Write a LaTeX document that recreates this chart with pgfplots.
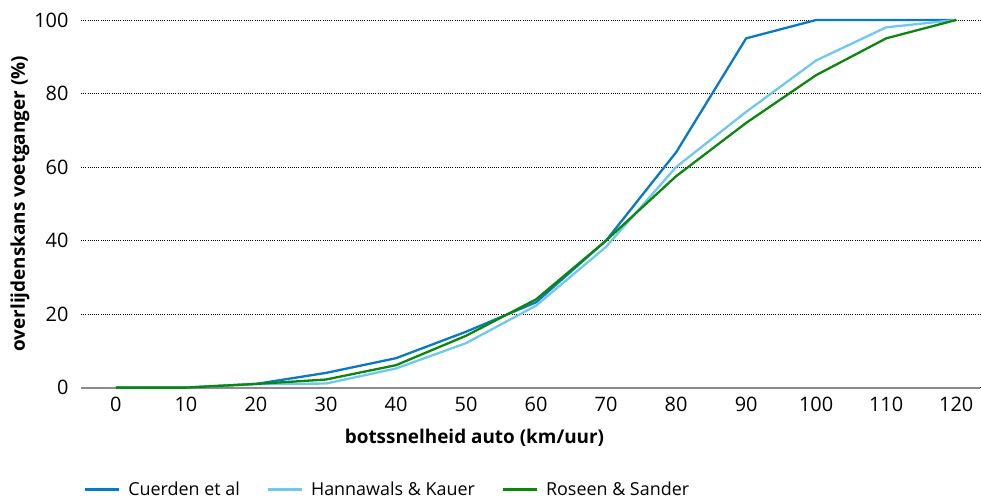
\documentclass[border=0pt]{standalone}
\usepackage{fontspec}
\setmainfont{Open Sans}
\usepackage{pgfplots}
\pgfplotsset{compat=1.18}
\usetikzlibrary{calc}
\definecolor{cuerden}{RGB}{8,121,196}
\definecolor{hannawals}{RGB}{112,200,236}
\definecolor{roseen}{RGB}{12,134,12}
\definecolor{asgrijs}{RGB}{140,140,140}
\begin{document}
\begin{tikzpicture}
\begin{axis}[
    name=ax,
    scale only axis,
    width=900bp, height=368bp,
    xmin=-5, xmax=123.4,
    ymin=0, ymax=100,
    xtick={0,10,...,120},
    ytick={0,20,...,100},
    axis line style={draw=none},
    major tick length=0pt,
    ymajorgrids,
    major grid style={black, line width=0.6bp, dash pattern=on 1bp off 1.2bp},
    /pgf/number format/assume math mode=true,
    tick label style={font=\fontsize{20}{24}\selectfont},
    xticklabel style={yshift=-6bp},
    yticklabel style={xshift=-9bp},
    xlabel={\bfseries botssnelheid auto (km/uur)},
    ylabel={\bfseries overlijdenskans voetganger (\%)},
    label style={font=\fontsize{19}{23}\selectfont},
    xlabel style={yshift=-11bp, xshift=-56bp},
    ylabel style={yshift=-2bp},
    clip=false,
    legend columns=-1,
    legend style={at={(axis description cs:0,-0.277)}, anchor=west,
        draw=none, fill=none, font=\fontsize{18}{22}\selectfont,
        /tikz/every odd column/.append style={column sep=6bp},
        /tikz/every even column/.append style={column sep=25bp}},
    legend image code/.code={\draw[#1] (0bp,0bp) -- (34bp,0bp);},
    every axis plot/.append style={line width=2.3bp},
]
\addplot[asgrijs, line width=2bp, forget plot] coordinates {(-5,0) (123.4,0)};
\addplot[cuerden] coordinates {
(0,0) (10,0) (20,1) (30,4) (40,8) (50,15.2) (60,23.2) (70,40) (80,64) (90,95) (100,100) (110,100) (120,100)};
\addplot[hannawals] coordinates {
(0,0) (10,0) (20,1) (30,1.1) (40,5.2) (50,12.1) (60,22.3) (70,38.3) (80,60) (90,75) (100,89) (110,98) (120,100)};
\addplot[roseen] coordinates {
(0,0) (10,0) (20,1) (30,2.2) (40,6.1) (50,14.1) (60,24) (70,40) (80,57.5) (90,72) (100,85) (110,95) (120,100)};
\legend{Cuerden et al, Hannawals \& Kauer, Roseen \& Sander}
\end{axis}
\path[use as bounding box] ($(ax.south west)+(-81bp,-111bp)$) rectangle ($(ax.north east)+(0bp,20bp)$);
\end{tikzpicture}
\end{document}
